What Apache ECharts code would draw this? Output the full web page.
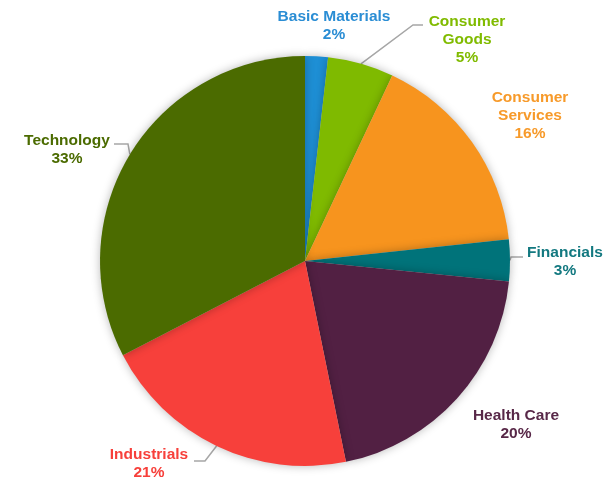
<!DOCTYPE html>
<html>
<head>
<meta charset="utf-8">
<style>html,body{margin:0;padding:0;background:#fff;}#c{width:608px;height:481px;}</style>
<script src="https://cdn.jsdelivr.net/npm/echarts@6/dist/echarts.min.js"></script>
</head>
<body>
<div id="c"></div>
<script>
const categories = ['Basic Materials', 'Consumer Goods', 'Consumer Services', 'Financials', 'Health Care', 'Industrials', 'Technology'];
const values = [1.8, 5.2, 16.3, 3.3, 20.2, 20.6, 32.6];

const sliceColors = ['#1e8fd5', '#7fba00', '#f7941e', '#00737a', '#522043', '#f7403b', '#4b6b00'];
const textColors = ['#2a8dd4', '#80bb00', '#f79a2a', '#137980', '#582848', '#f7403b', '#4b6b00'];
// label anchor (center) and leader-line elbows, in pixels
const labelSpots = [
  {x: 334, y: 26, line: null},
  {x: 467, y: 40, line: [[413, 25], [423, 25]]},
  {x: 530, y: 116, line: null},
  {x: 565, y: 262, line: [[511, 257], [523, 257]]},
  {x: 516, y: 425, line: null},
  {x: 149, y: 464, line: [[205, 461], [194, 461]]},
  {x: 67, y: 150, line: [[128, 144], [114, 144]]}
];

const chart = echarts.init(document.getElementById('c'), null, {renderer: 'canvas'});
const data = categories.map((n, i) => ({
  name: n,
  value: values[i],
  itemStyle: {color: sliceColors[i]},
  label: {color: textColors[i]},
  labelLine: {show: !!labelSpots[i].line}
}));

chart.setOption({
  animation: false,
  series: [{
    type: 'pie',
    center: [305, 261],
    radius: [0, 205],
    startAngle: 90,
    clockwise: true,
    avoidLabelOverlap: false,
    data: data,
    itemStyle: {
      borderWidth: 0,
      shadowBlur: 10,
      shadowColor: 'rgba(0,0,0,0.28)'
    },
    label: {
      show: true,
      position: 'outside',
      overflow: 'none',
      width: 200,
      edgeDistance: 0,
      fontFamily: '"Liberation Sans", Arial, sans-serif',
      fontWeight: 'bold',
      fontSize: 15.5,
      lineHeight: 18,
      align: 'center',
      formatter: p => p.name.replace('Consumer ', 'Consumer\n') + '\n' + Math.round(p.value) + '%'
    },
    labelLine: {
      show: true,
      length: 10,
      length2: 10,
      lineStyle: {color: '#a6a6a6', width: 1.5}
    },
    labelLayout: function (params) {
      const s = labelSpots[params.dataIndex];
      const out = {x: s.x, y: s.y, align: 'center', verticalAlign: 'middle'};
      if (s.line && params.labelLinePoints) {
        const p0 = params.labelLinePoints[0];
        out.labelLinePoints = [[p0[0], p0[1]], s.line[0], s.line[1]];
      }
      return out;
    }
  }]
});
</script>
</body>
</html>
